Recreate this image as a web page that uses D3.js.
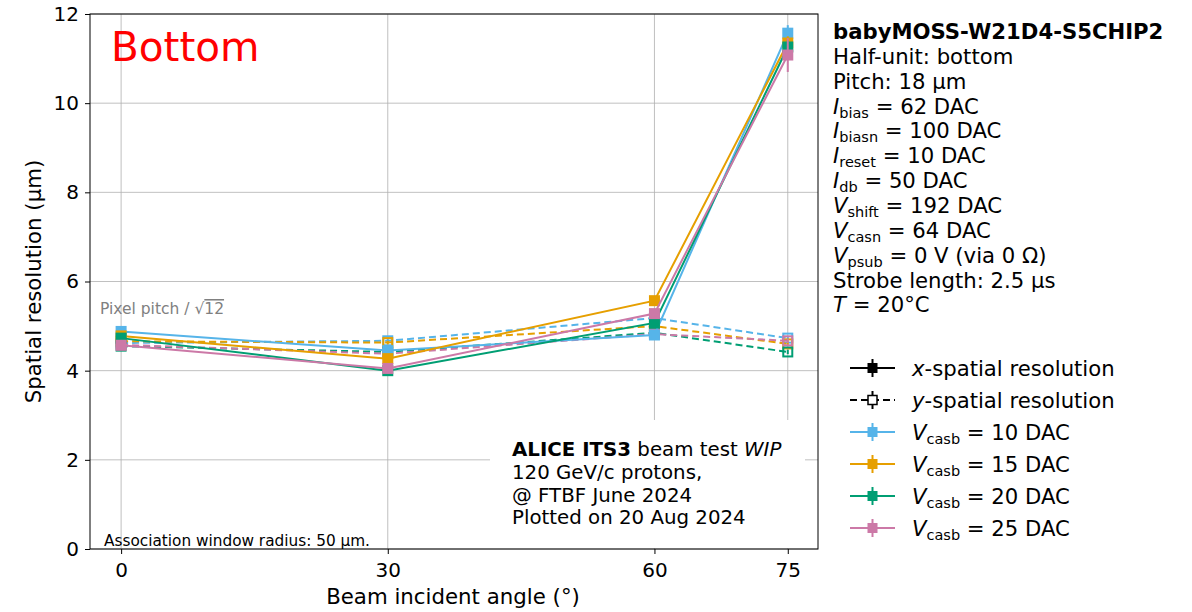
<!DOCTYPE html>
<html><head><meta charset="utf-8">
<script src="https://cdn.jsdelivr.net/npm/d3@7"></script>
<style>body{margin:0;background:#fff}svg{font-family:"DejaVu Sans",sans-serif}</style>
</head><body><svg id="c" width="1192" height="612"></svg>
<script>
const angles = [0, 30, 60, 75];
const vcasbLabels = ["10", "15", "20", "25"];
const colors = ["#56B4E9", "#E69F00", "#009E73", "#CC79A7"];
const xRes10 = [4.88, 4.45, 4.80, 11.57];
const xRes15 = [4.78, 4.27, 5.57, 11.35];
const xRes20 = [4.73, 4.00, 5.07, 11.26];
const xRes25 = [4.57, 4.05, 5.28, 11.08];
const yRes10 = [4.62, 4.67, 5.18, 4.73];
const yRes15 = [4.66, 4.63, 5.00, 4.60];
const yRes20 = [4.55, 4.42, 4.85, 4.42];
const yRes25 = [4.58, 4.38, 4.82, 4.67];
const xErr10 = [0.05, 0.04, 0.05, 0.18];
const xErr15 = [0.05, 0.04, 0.05, 0.15];
const xErr20 = [0.05, 0.04, 0.05, 0.15];
const xErr25 = [0.05, 0.04, 0.05, 0.38];
const yErr = [0.04, 0.04, 0.04, 0.05];
const yTicks = [0, 2, 4, 6, 8, 10, 12];

const xSeries = [xRes10, xRes15, xRes20, xRes25];
const ySeries = [yRes10, yRes15, yRes20, yRes25];
const xErrs = [xErr10, xErr15, xErr20, xErr25];

const svg = d3.select("#c");
const L = 90, R = 818, T = 14, B = 549;
const x = d3.scaleLinear().domain([-3.5, 78.4]).range([L, R]);
const y = d3.scaleLinear().domain([0, 12]).range([B, T]);

// grid
const g = svg.append("g");
g.selectAll(".vg").data(angles).join("line").attr("x1", d => x(d)).attr("x2", d => x(d))
  .attr("y1", T).attr("y2", B).attr("stroke", "#b0b0b0").attr("stroke-width", 0.8);
g.selectAll(".hg").data(yTicks).join("line").attr("x1", L).attr("x2", R)
  .attr("y1", d => y(d)).attr("y2", d => y(d)).attr("stroke", "#b0b0b0").attr("stroke-width", 0.8);

// pixel pitch text
svg.append("text").attr("x", 100).attr("y", 314).attr("fill", "#808080").attr("font-size", 15.5)
  .html('Pixel pitch / √<tspan text-decoration="overline">12</tspan>');

// series
const line = d3.line().x((d, i) => x(angles[i])).y(d => y(d));
const ms = 11;
function drawSeries(vals, errs, color, dashed) {
  const sg = svg.append("g");
  sg.append("path").datum(vals).attr("d", line).attr("fill", "none").attr("stroke", color)
    .attr("stroke-width", 2).attr("stroke-dasharray", dashed ? "7,4" : null);
  sg.selectAll(".eb").data(vals).join("line")
    .attr("x1", (d, i) => x(angles[i])).attr("x2", (d, i) => x(angles[i]))
    .attr("y1", (d, i) => y(d + errs[i])).attr("y2", (d, i) => y(d - errs[i]))
    .attr("stroke", color).attr("stroke-width", 2);
  sg.selectAll(".m").data(vals).join("rect")
    .attr("x", (d, i) => x(angles[i]) - ms / 2 + (dashed ? 1 : 0)).attr("y", d => y(d) - ms / 2 + (dashed ? 1 : 0))
    .attr("width", dashed ? ms - 2 : ms).attr("height", dashed ? ms - 2 : ms)
    .attr("fill", dashed ? "none" : color).attr("stroke", color).attr("stroke-width", dashed ? 2 : 0);
}
for (let k = 0; k < 4; k++) {
  drawSeries(ySeries[k], yErr, colors[k], true);
}
for (let k = 0; k < 4; k++) {
  drawSeries(xSeries[k], xErrs[k], colors[k], false);
}

// text box (white)
svg.append("rect").attr("x", 490).attr("y", 420).attr("width", 315).attr("height", 128).attr("fill", "#fff");
const tb = svg.append("text").attr("font-size", 19.8).attr("fill", "#000");
tb.append("tspan").attr("x", 512).attr("y", 456).html('<tspan font-weight="bold">ALICE ITS3</tspan> beam test <tspan font-style="italic">WIP</tspan>');
["120 GeV/c protons,", "@ FTBF June 2024", "Plotted on 20 Aug 2024"].forEach((t, i) => {
  tb.append("tspan").attr("x", 512).attr("y", 479 + i * 22.5).text(t);
});

// axes frame
svg.append("rect").attr("x", L).attr("y", T).attr("width", R - L).attr("height", B - T)
  .attr("fill", "none").attr("stroke", "#000").attr("stroke-width", 1);
// ticks
const xa = svg.append("g").attr("transform", `translate(0,${B})`)
  .call(d3.axisBottom(x).tickValues(angles).tickSize(5).tickPadding(6));
const ya = svg.append("g").attr("transform", `translate(${L},0)`)
  .call(d3.axisLeft(y).tickValues(yTicks).tickSize(5).tickPadding(6));
[xa, ya].forEach(a => {
  a.select(".domain").remove();
  a.selectAll("text").attr("font-size", 20).attr("font-family", "DejaVu Sans").attr("fill", "#000");
  a.selectAll("line").attr("stroke", "#000");
});
xa.selectAll("text").attr("dy", "0.85em");

svg.append("text").attr("x", 453).attr("y", 604).attr("text-anchor", "middle").attr("font-size", 21.3)
  .text("Beam incident angle (°)");
svg.append("text").attr("transform", `translate(41,${(T + B) / 2}) rotate(-90)`).attr("text-anchor", "middle")
  .attr("font-size", 21.3).text("Spatial resolution (µm)");

svg.append("text").attr("x", 111).attr("y", 61).attr("fill", "#ff0000").attr("font-size", 40.5).text("Bottom");
svg.append("text").attr("x", 104).attr("y", 546).attr("font-size", 15.3).text("Association window radius: 50 µm.");

// info text
const it = svg.append("g").attr("font-size", 21.2);
it.append("text").attr("x", 833).attr("y", 39).attr("font-weight", "bold").text("babyMOSS-W21D4-S5CHIP2");
const lh = 24.85;
const sub = (v, s, rest) => `<tspan font-style="italic">${v}</tspan><tspan font-size="14.5" dy="4">${s}</tspan><tspan dy="-4"> = ${rest}</tspan>`;
const rich = [
  'Half-unit: bottom',
  'Pitch: 18 µm',
  sub("I", "bias", "62 DAC"),
  sub("I", "biasn", "100 DAC"),
  sub("I", "reset", "10 DAC"),
  sub("I", "db", "50 DAC"),
  sub("V", "shift", "192 DAC"),
  sub("V", "casn", "64 DAC"),
  sub("V", "psub", "0 V (via 0 Ω)"),
  'Strobe length: 2.5 µs',
  '<tspan font-style="italic">T</tspan> = 20°C'
];
rich.forEach((h, i) => {
  it.append("text").attr("x", 833).attr("y", 39 + lh * (i + 1)).html(h);
});

// legend
const lg = svg.append("g");
const legendItems = [
  {color: "#000", dashed: false, label: '<tspan font-style="italic">x</tspan>-spatial resolution'},
  {color: "#000", dashed: true, label: '<tspan font-style="italic">y</tspan>-spatial resolution'}
].concat(vcasbLabels.map((v, k) => ({color: colors[k], dashed: false, label: sub("V", "casb", v + " DAC")})));
legendItems.forEach((d, i) => {
  const cy = 368 + i * 32;
  lg.append("line").attr("x1", 850).attr("x2", 895).attr("y1", cy).attr("y2", cy)
    .attr("stroke", d.color).attr("stroke-width", 2).attr("stroke-dasharray", d.dashed ? "7,4" : null);
  lg.append("line").attr("x1", 872.5).attr("x2", 872.5).attr("y1", cy - 9).attr("y2", cy + 9)
    .attr("stroke", d.color).attr("stroke-width", 2);
  if (d.dashed) {
    lg.append("rect").attr("x", 868).attr("y", cy - 4.5).attr("width", 9).attr("height", 9)
      .attr("fill", "#fff").attr("stroke", d.color).attr("stroke-width", 1.5);
  } else {
    lg.append("rect").attr("x", 867.5).attr("y", cy - 5).attr("width", 10).attr("height", 10).attr("fill", d.color);
  }
  lg.append("text").attr("x", 912).attr("y", cy + 7.5).attr("font-size", 21.2).html(d.label);
});
</script></body></html>
